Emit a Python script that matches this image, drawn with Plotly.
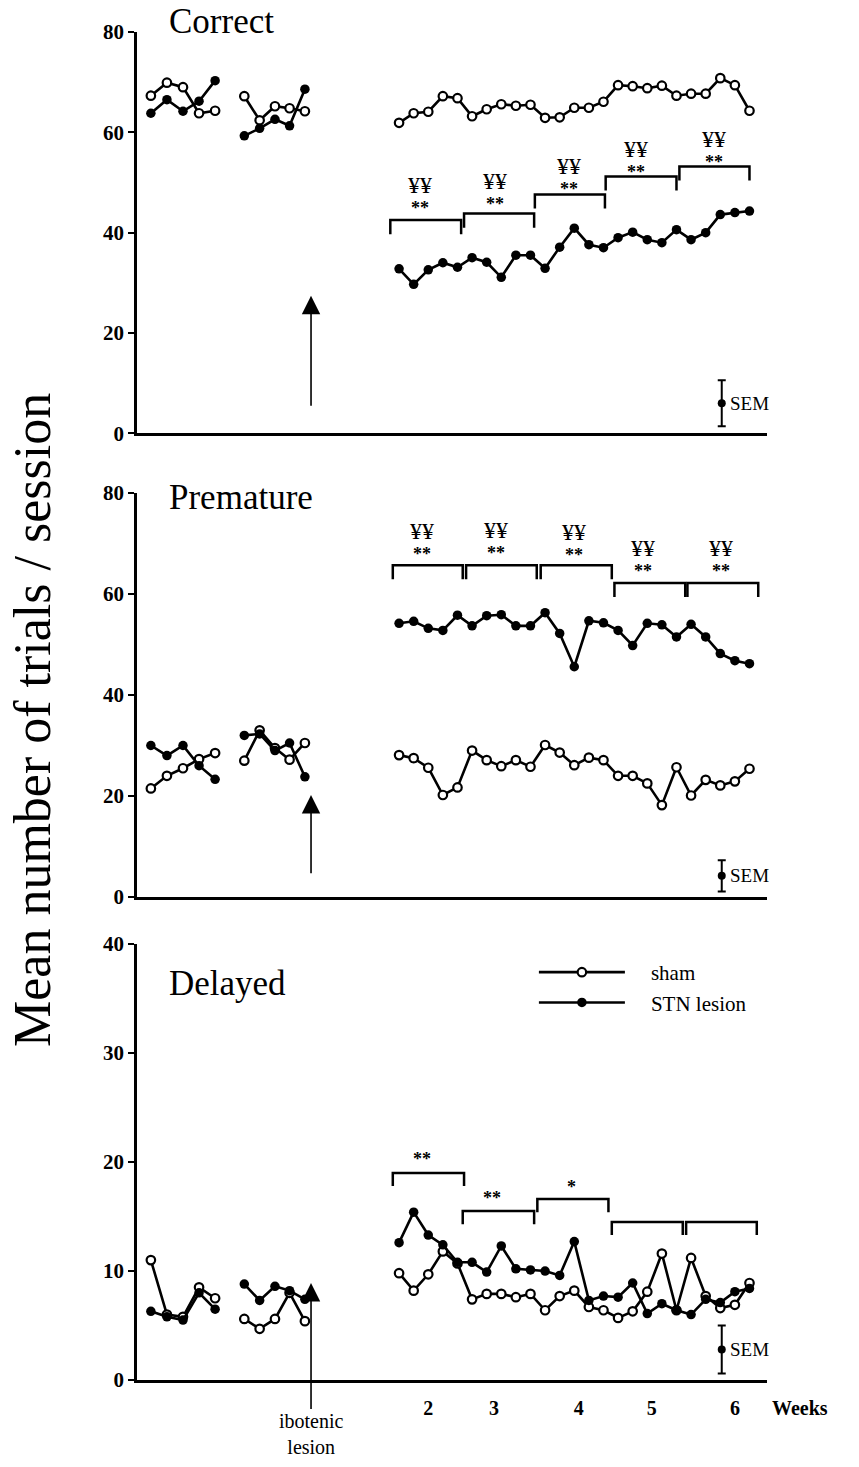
import plotly.graph_objects as go

FONT = "Liberation Serif"

# ---------------- data ----------------
# session positions (pre-lesion baseline blocks, then post-lesion sessions 1..25)
pre1_x = [-16.0, -14.9, -13.8, -12.7, -11.6]
pre2_x = [-9.6, -8.55, -7.5, -6.5, -5.45]
post_x = list(range(1, 26))

week_ticks = [3.0, 7.5, 13.3, 18.3, 24.0]
week_labels = ["2", "3", "4", "5", "6"]

# Correct
correct_sham_pre1 = [67.3, 69.9, 69.0, 63.8, 64.3]
correct_stn_pre1 = [63.8, 66.5, 64.2, 66.2, 70.3]
correct_sham_pre2 = [67.2, 62.4, 65.2, 64.8, 64.2]
correct_stn_pre2 = [59.3, 60.8, 62.6, 61.3, 68.6]
correct_sham_post = [61.9, 63.8, 64.1, 67.2, 66.8, 63.2, 64.6, 65.6, 65.3, 65.5, 62.9, 63.0, 64.9,
                     64.9, 66.1, 69.4, 69.2, 68.8, 69.3, 67.3, 67.7, 67.7, 70.8, 69.4, 64.3]
correct_stn_post = [32.8, 29.7, 32.6, 34.0, 33.1, 35.0, 34.1, 31.1, 35.5, 35.5, 32.9, 37.1, 40.9,
                    37.6, 37.0, 39.0, 40.1, 38.6, 38.0, 40.6, 38.6, 40.0, 43.6, 44.0, 44.3]

# Premature
premature_sham_pre1 = [21.5, 24.0, 25.5, 27.3, 28.5]
premature_stn_pre1 = [30.0, 28.0, 30.0, 26.0, 23.3]
premature_sham_pre2 = [27.0, 33.0, 29.5, 27.2, 30.5]
premature_stn_pre2 = [32.0, 32.3, 29.0, 30.5, 23.8]
premature_sham_post = [28.1, 27.5, 25.6, 20.2, 21.7, 29.0, 27.1, 25.9, 27.1, 25.8, 30.1, 28.6, 26.1,
                       27.6, 27.1, 24.0, 24.0, 22.5, 18.2, 25.7, 20.1, 23.2, 22.1, 22.9, 25.4]
premature_stn_post = [54.2, 54.6, 53.2, 52.8, 55.8, 53.7, 55.7, 55.9, 53.7, 53.7, 56.3, 52.2, 45.6,
                      54.7, 54.3, 52.8, 49.8, 54.2, 53.9, 51.5, 54.0, 51.5, 48.2, 46.8, 46.2]

# Delayed
delayed_sham_pre1 = [11.0, 6.0, 5.8, 8.5, 7.5]
delayed_stn_pre1 = [6.3, 5.8, 5.5, 8.0, 6.5]
delayed_sham_pre2 = [5.6, 4.7, 5.6, 8.0, 5.4]
delayed_stn_pre2 = [8.8, 7.3, 8.6, 8.2, 7.4]
delayed_sham_post = [9.8, 8.2, 9.7, 11.8, 10.7, 7.4, 7.9, 7.9, 7.6, 7.9, 6.4, 7.7, 8.2,
                     6.7, 6.4, 5.7, 6.3, 8.1, 11.6, 6.4, 11.2, 7.7, 6.6, 6.9, 8.9]
delayed_stn_post = [12.6, 15.4, 13.3, 12.4, 10.8, 10.8, 9.9, 12.3, 10.2, 10.1, 10.0, 9.6, 12.7,
                    7.3, 7.7, 7.6, 8.9, 6.1, 7.0, 6.4, 6.0, 7.4, 7.1, 8.1, 8.4]

# significance brackets (weekly blocks)
correct_br_x0 = [0.4, 5.45, 10.3, 15.15, 20.2]
correct_br_x1 = [5.25, 10.25, 15.1, 20.0, 25.0]
correct_br_top = [42.5, 43.8, 47.6, 51.2, 53.2]
correct_star_x = [2.23, 7.3, 12.37, 17.03, 22.3]
correct_star_y = [45.2, 46.4, 49.4, 53.2, 55.3]
correct_star_txt = ["**", "**", "**", "**", "**"]
correct_yen_x = [2.58, 7.78, 12.85, 17.37, 22.78]
correct_yen_y = [50.0, 50.2, 53.0, 56.3, 58.0]

premature_br_x0 = [0.57, 5.59, 10.7, 15.75, 20.75]
premature_br_x1 = [5.36, 10.43, 15.57, 20.6, 25.6]
premature_br_top = [65.7, 65.7, 65.7, 62.2, 62.2]
premature_star_x = [2.39, 7.46, 12.83, 17.62, 22.87]
premature_star_y = [68.4, 68.4, 68.0, 64.7, 64.7]
premature_star_txt = ["**", "**", "**", "**", "**"]
premature_yen_x = [2.78, 7.8, 13.17, 17.78, 23.2]
premature_yen_y = [72.5, 72.8, 72.5, 69.5, 69.4]

delayed_br_x0 = [0.57, 5.36, 10.47, 15.57, 20.66]
delayed_br_x1 = [5.45, 10.25, 15.34, 20.43, 25.5]
delayed_br_top = [19.0, 15.5, 16.6, 14.5, 14.5]
delayed_star_x = [2.55, 7.36, 12.8]
delayed_star_y = [20.3, 16.7, 17.7]
delayed_star_txt = ["**", "**", "*"]

# SEM bars
sem_x = 23.1
sem_mean = [6.0, 4.2, 2.8]
sem_err = [4.6, 3.1, 2.2]

# lesion arrows (x position, head y, tail y)
lesion_x = -5.03
arrow_head = [27.4, 20.2, 8.9]
arrow_tail = [5.2, 4.4, -5.0]

# ---------------- figure ----------------
fig = go.Figure()

panels = [
    dict(sham=(correct_sham_pre1, correct_sham_pre2, correct_sham_post),
         stn=(correct_stn_pre1, correct_stn_pre2, correct_stn_post),
         br=(correct_br_x0, correct_br_x1, correct_br_top, 2.8),
         star=(correct_star_x, correct_star_y, correct_star_txt),
         yen=(correct_yen_x, correct_yen_y), title="Correct"),
    dict(sham=(premature_sham_pre1, premature_sham_pre2, premature_sham_post),
         stn=(premature_stn_pre1, premature_stn_pre2, premature_stn_post),
         br=(premature_br_x0, premature_br_x1, premature_br_top, 2.8),
         star=(premature_star_x, premature_star_y, premature_star_txt),
         yen=(premature_yen_x, premature_yen_y), title="Premature"),
    dict(sham=(delayed_sham_pre1, delayed_sham_pre2, delayed_sham_post),
         stn=(delayed_stn_pre1, delayed_stn_pre2, delayed_stn_post),
         br=(delayed_br_x0, delayed_br_x1, delayed_br_top, 1.2),
         star=(delayed_star_x, delayed_star_y, delayed_star_txt),
         yen=None, title="Delayed"),
]


def join(a, b, c):
    xs = pre1_x + [None] + pre2_x + [None] + post_x
    ys = list(a) + [None] + list(b) + [None] + list(c)
    return xs, ys


NBSP = "\u00a0"
annotations = []
for i, p in enumerate(panels):
    xr = "x" if i == 0 else f"x{i + 1}"
    yr = "y" if i == 0 else f"y{i + 1}"
    last = i == 2

    # brackets
    x0s, x1s, tops, drop = p["br"]
    bx, by = [], []
    for a, b, t in zip(x0s, x1s, tops):
        bx += [a, a, b, b, None]
        by += [t - drop, t, t, t - drop, None]
    fig.add_trace(go.Scatter(x=bx, y=by, mode="lines", line=dict(color="black", width=2.5),
                             xaxis=xr, yaxis=yr, showlegend=False, hoverinfo="skip"))

    sx, sy = join(*p["sham"])
    fig.add_trace(go.Scatter(x=sx, y=sy, mode="lines+markers", name=NBSP * 4 + "sham",
                             line=dict(color="black", width=2.6),
                             marker=dict(symbol="circle", size=8.5, color="white",
                                         line=dict(color="black", width=2.2)),
                             xaxis=xr, yaxis=yr, showlegend=last, legendrank=1))
    tx, ty = join(*p["stn"])
    fig.add_trace(go.Scatter(x=tx, y=ty, mode="lines+markers", name=NBSP * 4 + "STN lesion",
                             line=dict(color="black", width=2.6),
                             marker=dict(symbol="circle", size=9.5, color="black"),
                             xaxis=xr, yaxis=yr, showlegend=last, legendrank=2))

    # SEM
    fig.add_trace(go.Scatter(x=[sem_x], y=[sem_mean[i]], mode="markers",
                             marker=dict(size=8, color="black"),
                             error_y=dict(type="data", array=[sem_err[i]], color="black",
                                          thickness=2, width=4),
                             xaxis=xr, yaxis=yr, showlegend=False, hoverinfo="skip"))
    annotations.append(dict(x=sem_x, y=sem_mean[i], xref=xr, yref=yr, text="SEM",
                            showarrow=False, xanchor="left", xshift=6,
                            font=dict(family=FONT, size=19, color="black")))

    # significance marks
    if p["yen"]:
        for x, y, t, yx, yy in zip(*p["star"], *p["yen"]):
            annotations.append(dict(
                x=(x + yx) / 2, y=(y + yy) / 2, xref=xr, yref=yr,
                text=(f'<span style="font-size:24px;color:#000000">¥¥</span><br>'
                      f'<span style="font-size:18px;color:#000000"><b>{t}</b></span>'),
                showarrow=False, yanchor="middle",
                font=dict(family=FONT, size=16, color="#000000")))
    else:
        for x, y, t in zip(*p["star"]):
            annotations.append(dict(x=x, y=y, xref=xr, yref=yr, text=f"<b>{t}</b>",
                                    showarrow=False,
                                    font=dict(family=FONT, size=18, color="black")))

    # lesion arrow
    annotations.append(dict(x=lesion_x, y=arrow_head[i], ax=lesion_x, ay=arrow_tail[i],
                            xref=xr, yref=yr, axref=xr, ayref=yr,
                            text="ibotenic<br>lesion" if last else "",
                            showarrow=True, arrowhead=2, arrowsize=2.3, arrowwidth=1.6,
                            arrowcolor="black",
                            font=dict(family=FONT, size=20, color="black")))

    # panel title
    title_y = [1.026, 0.99, 0.91][i]
    annotations.append(dict(x=0.047, y=title_y, xref=f"{xr} domain", yref=f"{yr} domain",
                            text=p["title"], showarrow=False, xanchor="left", yanchor="middle",
                            font=dict(family=FONT, size=35, color="black")))

# Weeks label
annotations.append(dict(x=1.052, y=-0.0208, xref="paper", yref="paper", text="Weeks",
                        showarrow=False, xanchor="center", yanchor="middle",
                        font=dict(family=FONT, size=20, color="black", weight="bold")))
# y title
annotations.append(dict(x=-0.1667, y=0.4896, xref="paper", yref="paper", xanchor="center",
                        yanchor="middle", text="Mean number of trials / session",
                        showarrow=False, textangle=-90,
                        font=dict(family=FONT, size=52, color="black")))

xrange = [-16.95, 26.2]
common_x = dict(range=xrange, showgrid=False, zeroline=False, showline=True,
                linecolor="black", linewidth=2.5, ticks="", fixedrange=True)
common_y = dict(showgrid=False, zeroline=False, showline=True, linecolor="black",
                linewidth=2.5, ticks="outside", ticklen=6, tickwidth=2, tickcolor="black",
                tickfont=dict(family=FONT, size=21, color="black", weight="bold"))

fig.update_layout(
    width=859, height=1467,
    margin=dict(l=137, r=92, t=32, b=87),
    paper_bgcolor="white", plot_bgcolor="white",
    annotations=annotations,
    xaxis=dict(**common_x, anchor="y", showticklabels=False),
    xaxis2=dict(**common_x, anchor="y2", showticklabels=False),
    xaxis3=dict(**common_x, anchor="y3", tickvals=week_ticks, ticktext=week_labels,
                ticklabelstandoff=8,
                tickfont=dict(family=FONT, size=20, color="black", weight="bold")),
    yaxis=dict(**common_y, anchor="x", domain=[0.7023, 1.0], range=[0, 80],
               tickvals=[0, 20, 40, 60, 80]),
    yaxis2=dict(**common_y, anchor="x2", domain=[0.3583, 0.658], range=[0, 80],
                tickvals=[0, 20, 40, 60, 80]),
    yaxis3=dict(**common_y, anchor="x3", domain=[0.0, 0.3234], range=[0, 40],
                tickvals=[0, 10, 20, 30, 40]),
    showlegend=True,
    legend=dict(x=0.63, y=0.3175, xanchor="left", yanchor="top", xref="paper", yref="paper",
                bgcolor="rgba(0,0,0,0)", itemwidth=86, traceorder="normal",
                font=dict(family=FONT, size=21, color="black")),
)

fig.write_html("out.html", config={"displayModeBar": False},
               post_script="document.body.style.margin='0px';document.body.style.overflow='hidden';")
